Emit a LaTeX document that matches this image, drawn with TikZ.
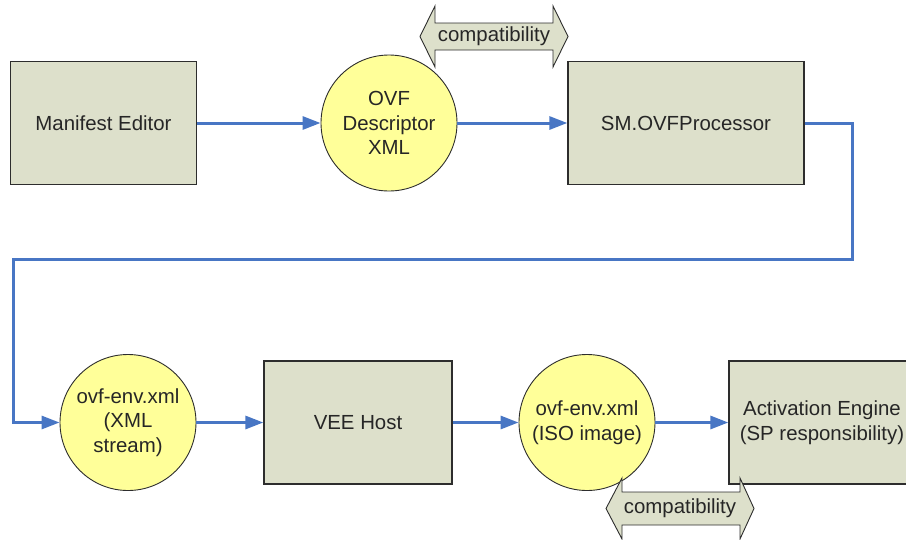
\documentclass[tikz,border=0pt]{standalone}
\usepackage{fontspec}
\setmainfont{Liberation Sans}
\usepackage{xcolor}
\usepackage{tikz}
\usetikzlibrary{arrows.meta}

\definecolor{boxfill}{RGB}{221,224,203}
\definecolor{datafill}{RGB}{255,255,153}
\definecolor{flowblue}{RGB}{72,118,196}
\definecolor{edgegray}{RGB}{45,45,45}

\begin{document}
\begin{tikzpicture}[
		x=1pt, y=-1pt,
		font=\fontsize{20.4}{24.5}\selectfont,
		box/.style={
			draw=edgegray,
			fill=boxfill,
			line width=1.3pt,
			minimum width=186pt,
			minimum height=123pt,
			align=center,
			text=black!85
			},
		data/.style={
			draw=edgegray,
			fill=datafill,
			line width=0.9pt,
			circle,
			minimum size=136pt,
			inner sep=0pt,
			align=center,
			text=black!85
			},
		flow/.style={
			line width=3pt,
			color=flowblue,
			-{Triangle[length=18pt,width=13pt]}
			},
		compat/.style={
			draw=edgegray,
			fill=boxfill,
			line width=0.9pt,
			line join=miter
			}
		]

		\clip (0,0) rectangle (906,539);
		\useasboundingbox (0,0) rectangle (906,539);

		% top row
		\node[box] (editor) at (103.5,123) {Manifest Editor};
		\node[data] (descr) at (389,123) {OVF\\Descriptor\\XML};
		\node[box, minimum width=236pt] (proc) at (686,123) {SM.OVFProcessor};

		% bottom row
		\node[data] (envxml) at (128,422.5) {ovf-env.xml\\(XML\\stream)};
		\node[box, minimum width=188pt] (vee) at (358,422.5) {VEE Host};
		\node[data] (enviso) at (587,422.5) {ovf-env.xml\\(ISO image)};
		\node[box] (engine) at (822,422.5) {Activation Engine\\(SP responsibility)};

		% connectors
		\coordinate (bendr) at (852,259);
		\coordinate (bendl) at (13,259);
		\draw[flow] (editor) -- (descr);
		\draw[flow] (descr) -- (proc);
		\draw[flow] (proc.east) -| (bendr) -- (bendl) |- (envxml.west);
		\draw[flow] (envxml) -- (vee);
		\draw[flow] (vee) -- (enviso);
		\draw[flow] (enviso) -- (engine);

		% compatibility arrows
		\draw[compat] (420,36.5) --++(15,-30.5) --++(0,17) --++(118,0) --++(0,-17) --++(15,30.5) --++(-15,30.5) --++(0,-17) --++(-118,0) --++(0,17) -- cycle;
		\node[text=black!85] (compattop) at (494,36) {compatibility};

		\draw[compat] (606,508.5) --++(16,-30.5) --++(0,14) --++(118,0) --++(0,-14) --++(14,30.5) --++(-14,30.5) --++(0,-14) --++(-118,0) --++(0,14) -- cycle;
		\node[text=black!85] (compatbot) at (680,508) {compatibility};

	\end{tikzpicture}
\end{document}
